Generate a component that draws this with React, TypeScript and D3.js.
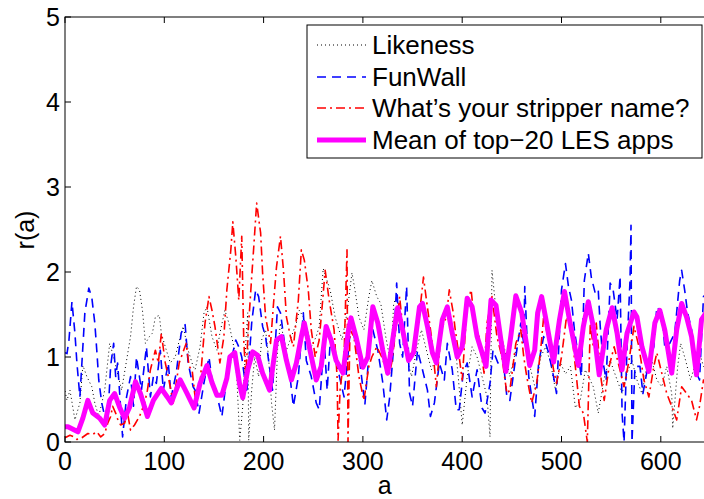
import React from "react";
import * as d3 from "d3";

// series (a, r(a))
const likeA = [0,2,5,10,15,18,22,27,30,34,40,45,49,52,57,61,66,69,72,75,78,81,85,88,91,95,97,101,106,111,116,119,124,129,131,136,140,143,148,153,156,161,165,170,173,176,179,182,184,185,188,191,195,198,202,205,208,211,214,217,220,223,228,233,236,240,245,248,253,256,260,267,272,279,284,289,292,296,301,306,309,314,318,323,328,331,334,339,344,349,354,359,364,369,374,379,384,389,393,396,400,405,410,415,420,425,428,430,433,438,443,448,454,459,464,469,474,479,484,489,494,499,504,509,514,519,524,532,537,544,549,556,561,566,571,576,581,586,591,596,601,606,611,612,617,620,625,630,634,639,643,650];
const likeR = [0.6,0.49,0.61,0.26,0.46,0.9,0.77,0.65,0.46,0.3,0.61,1.16,1.0,0.85,0.61,0.89,1.24,1.59,1.83,1.79,1.55,1.16,1.24,1.28,1.47,1.49,1.28,1.12,0.93,1.0,1.24,1.36,1.08,0.89,0.85,1.12,1.52,1.59,1.24,1.08,1.28,1.55,1.4,1.12,0.77,0.02,0.42,1.16,1.52,0.02,0.61,1.0,0.77,1.2,1.32,1.0,0.46,0.14,1.08,1.4,1.24,1.08,1.24,1.4,1.55,1.47,1.28,1.12,1.24,1.36,2.04,1.79,1.47,1.2,1.52,1.99,1.79,1.47,1.32,1.71,1.9,1.71,1.63,1.24,0.93,1.63,1.71,1.4,1.0,0.77,1.08,1.32,1.08,0.85,1.0,1.32,1.55,1.36,1.12,0.77,0.2,0.77,1.12,1.0,0.77,0.53,0.06,2.02,1.67,1.32,1.08,0.77,1.08,1.32,1.12,0.85,0.61,1.0,1.12,0.93,0.61,0.93,0.8,0.89,0.4,0.5,0.85,0.65,0.34,0.81,0.96,0.73,0.57,0.81,0.96,0.73,0.57,0.89,0.96,0.73,0.65,0.89,0.57,0.16,0.89,1.16,0.96,0.73,0.89,1.05,0.89,0.8];

const funA = [0,2,4,7,10,12,15,20,24,27,30,32,34,37,40,43,46,49,51,53,58,62,66,69,72,77,82,86,89,92,96,99,104,107,112,117,121,124,129,131,135,140,145,148,153,158,163,168,172,175,178,183,188,192,195,199,202,205,209,214,217,222,225,230,235,240,243,248,253,256,261,264,267,272,281,288,292,297,302,307,310,315,320,324,327,331,334,337,340,344,347,350,355,360,365,368,372,377,382,385,390,394,397,401,405,410,415,420,423,428,431,436,441,445,448,454,459,462,463,467,470,473,477,482,487,492,495,500,504,507,510,513,517,520,523,527,530,534,537,539,542,545,549,552,556,559,561,563,566,569,570,571,574,579,582,587,593,596,601,604,609,614,619,621,624,627,631,636,639,643,650];
const funR = [1.05,1.04,1.2,1.65,1.28,0.93,0.53,1.52,1.81,1.7,1.4,1.08,0.73,0.46,0.3,0.26,0.9,1.16,0.77,0.93,0.06,0.53,0.77,0.42,1.0,0.61,1.12,0.53,0.77,0.69,1.08,0.61,0.93,0.53,0.81,1.28,1.38,0.93,0.65,0.61,0.34,0.7,1.0,0.73,0.55,0.3,0.77,1.0,1.2,1.12,1.0,0.57,1.4,1.79,1.71,1.36,1.24,0.96,0.61,1.59,1.52,1.08,0.93,0.42,0.77,1.52,0.96,0.77,0.46,0.38,1.2,0.61,1.16,1.0,0.53,1.4,1.2,0.93,0.44,1.16,1.32,1.08,0.7,0.26,0.53,1.12,1.87,1.16,1.0,1.83,0.57,0.42,1.08,0.85,0.61,0.3,0.46,0.93,0.73,1.16,0.85,0.38,0.38,0.81,0.93,0.53,0.85,0.4,0.34,0.69,1.08,0.93,1.0,0.53,0.49,1.0,1.4,1.16,1.83,0.77,0.53,0.3,0.93,1.24,1.05,0.77,0.57,1.79,2.1,1.83,1.67,1.32,1.0,0.77,1.9,2.22,1.94,1.75,1.79,1.36,0.93,0.73,1.87,1.79,1.44,1.95,0.34,0.0,1.12,1.9,2.55,0.0,0.89,0.89,0.57,0.89,1.12,1.59,1.52,1.12,1.16,1.28,1.9,2.02,1.79,1.52,1.32,0.81,0.73,1.71,1.8];

const stripA = [0,5,9,12,17,23,28,32,36,40,43,46,48,51,53,56,60,63,66,70,75,80,83,86,91,94,97,101,104,109,115,122,125,128,131,136,141,145,148,151,156,160,163,167,169,172,175,178,180,182,185,188,190,193,197,199,202,207,210,213,217,220,223,227,230,235,238,241,245,248,252,256,259,262,266,271,274,275,277,281,284,285,287,291,296,301,306,309,314,319,326,329,334,337,341,346,351,356,361,364,369,374,379,384,387,391,393,397,400,405,409,413,417,422,425,430,435,440,445,448,454,459,462,465,470,475,479,482,487,492,495,500,505,510,515,518,522,526,529,532,535,540,543,548,553,558,563,568,573,578,583,588,593,596,601,606,611,616,621,626,631,636,639,643,650];
const stripR = [0.05,0.08,0.06,0.03,0.05,0.1,0.09,0.12,0.06,0.1,0.22,0.3,0.42,0.34,0.27,0.2,0.22,0.34,0.14,0.2,0.3,0.45,0.61,0.85,1.08,0.93,1.28,0.93,0.77,0.46,0.93,1.16,0.89,0.85,0.53,0.69,1.4,1.71,1.55,1.36,0.93,1.24,1.79,2.26,2.59,2.18,1.67,2.42,1.2,0.77,1.4,1.94,2.28,2.81,2.46,1.99,1.47,1.16,1.63,2.06,2.42,2.02,1.47,1.24,1.12,1.67,2.26,2.14,1.79,1.32,1.0,1.2,1.6,2.02,1.67,1.32,0.77,0.02,0.61,1.0,2.26,0.0,1.32,1.24,0.77,0.49,0.89,1.0,1.12,1.0,0.77,0.93,1.4,1.71,1.24,1.0,1.08,1.4,1.94,1.67,1.24,0.65,1.32,1.47,1.79,1.52,1.32,1.0,0.73,1.63,1.79,1.32,1.24,0.81,1.4,1.71,1.24,1.0,0.57,0.61,1.16,1.32,1.0,0.77,0.46,0.69,1.08,1.47,1.2,0.85,0.69,1.0,1.47,1.32,0.77,0.42,0.34,0.0,1.4,1.12,1.4,0.73,0.49,0.89,1.12,0.89,0.65,0.96,1.36,1.12,0.73,0.53,0.89,1.05,0.81,0.57,0.42,0.26,0.65,0.57,0.49,0.26,0.42,0.73,0.6];

const meanA = [0,3,8,13,18,23,28,35,40,45,50,55,60,65,71,76,83,89,97,103,107,116,123,130,136,143,148,153,158,163,166,171,176,179,184,189,194,199,206,213,218,223,228,233,238,241,246,253,258,263,268,273,280,285,288,293,300,305,310,315,320,325,332,335,340,346,351,357,360,365,370,374,380,385,390,395,400,405,410,415,420,424,429,434,439,444,449,454,460,463,468,473,476,480,485,492,498,503,508,517,522,527,532,538,545,551,556,561,566,573,576,581,588,594,599,604,611,616,621,626,631,636,641,650];
const meanR = [0.18,0.18,0.15,0.12,0.28,0.49,0.34,0.28,0.2,0.49,0.57,0.41,0.28,0.41,0.71,0.57,0.3,0.49,0.63,0.53,0.46,0.73,0.57,0.4,0.69,0.9,0.7,0.55,0.55,0.75,1.0,1.05,0.67,0.52,0.85,1.06,1.02,0.81,0.61,1.2,1.24,0.96,0.73,0.93,1.24,1.4,1.12,0.73,0.89,1.36,1.2,0.96,0.81,1.28,1.46,1.24,0.88,1.0,1.59,1.4,1.08,0.81,1.36,1.58,1.32,0.96,1.05,1.59,1.63,1.36,1.05,0.93,1.44,1.59,1.28,1.0,1.12,1.69,1.59,1.24,1.05,0.89,1.67,1.61,1.2,0.83,1.25,1.72,1.52,1.28,0.9,1.08,1.52,1.71,1.4,0.94,1.44,1.77,1.44,0.9,1.36,1.65,1.36,0.79,1.32,1.58,1.28,0.85,1.28,1.53,1.47,1.12,0.83,1.4,1.55,1.32,0.81,1.32,1.63,1.47,1.24,0.79,1.44,1.6];

const xTicks = [0, 100, 200, 300, 400, 500, 600];
const yTicks = [0, 1, 2, 3, 4, 5];
const legendLabels = ["Likeness", "FunWall", "What\u2019s your stripper name?", "Mean of top\u221220 LES apps"];

const font = "'Liberation Sans', Arial, Helvetica, sans-serif";

export default function App() {
  const left = 65, top = 17, bottom = 442;
  const x = d3.scaleLinear().domain([0, 650]).range([left, left + 650 * 0.993]);
  const y = d3.scaleLinear().domain([0, 5]).range([bottom, top]);
  const right = x(650);

  const mk = (as: number[], rs: number[]) =>
    d3.line<number>().x((_, i) => x(as[i])).y((d) => y(d))(rs) || "";

  const series = [
    { d: mk(likeA, likeR), color: "#000", width: 1, dash: "1 3" },
    { d: mk(funA, funR), color: "#0000ff", width: 1.6, dash: "9 6" },
    { d: mk(stripA, stripR), color: "#ff0000", width: 1.6, dash: "9 4 2 4" },
    { d: mk(meanA, meanR), color: "#ff00ff", width: 5, dash: "none" },
  ];

  const legX = 307, legY = 25, legW = 395, legH = 133;
  const rowY = [45, 77, 108, 140];

  return (
    <svg width={704} height={499} style={{ position: "absolute", left: 0, top: 0, background: "#fff" }}
      fontFamily={font}>
      <defs>
        <clipPath id="plot">
          <rect x={left} y={top} width={right - left} height={bottom - top} />
        </clipPath>
      </defs>
      <rect width={704} height={499} fill="#fff" />
      <g clipPath="url(#plot)">
        {series.map((s, i) => (
          <path key={i} d={s.d} fill="none" stroke={s.color} strokeWidth={s.width}
            strokeDasharray={s.dash} strokeLinejoin="round" />
        ))}
      </g>
      {/* frame and ticks */}
      <rect x={left} y={top} width={right - left} height={bottom - top} fill="none" stroke="#000" strokeWidth={1} />
      {xTicks.map((t) => (
        <g key={"x" + t}>
          <line x1={x(t)} x2={x(t)} y1={bottom} y2={bottom - 6} stroke="#000" />
          <line x1={x(t)} x2={x(t)} y1={top} y2={top + 6} stroke="#000" />
          <text x={x(t)} y={470} fontSize={25} textAnchor="middle">{t}</text>
        </g>
      ))}
      {yTicks.map((t) => (
        <g key={"y" + t}>
          <line x1={left} x2={left + 6} y1={y(t)} y2={y(t)} stroke="#000" />
          <line x1={right} x2={right - 6} y1={y(t)} y2={y(t)} stroke="#000" />
          <text x={60} y={y(t) + 9} fontSize={25} textAnchor="end">{t}</text>
        </g>
      ))}
      <text x={x(325) - 3} y={494} fontSize={25} textAnchor="middle">a</text>
      <text transform={`translate(34,230) rotate(-90)`} fontSize={25} textAnchor="middle">r(a)</text>
      {/* legend */}
      <rect x={legX} y={legY} width={legW} height={legH} fill="#fff" stroke="#000" strokeWidth={1} />
      {series.map((s, i) => (
        <g key={"l" + i}>
          <line x1={317} x2={366} y1={rowY[i]} y2={rowY[i]} stroke={s.color} strokeWidth={s.width}
            strokeDasharray={s.dash} />
          <text x={372} y={rowY[i] + 9} fontSize={26}>{legendLabels[i]}</text>
        </g>
      ))}
    </svg>
  );
}
